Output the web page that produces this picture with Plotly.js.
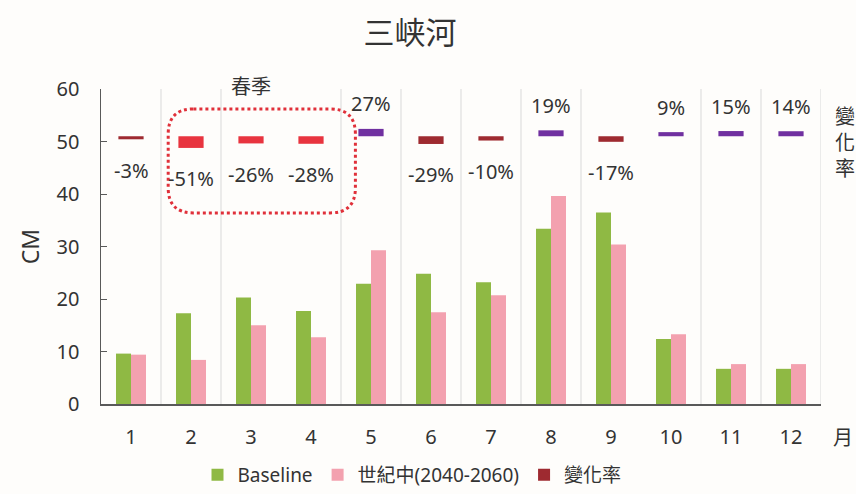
<!DOCTYPE html>
<html>
<head>
<meta charset="utf-8">
<script src="https://cdn.plot.ly/plotly-3.0.1.min.js"></script>
<style>html,body{margin:0;padding:0;background:#fefdfb;}</style>
</head>
<body>
<div id="chart" style="width:856px;height:494px;"></div>
<script>
// ---- data ----
const months = [1,2,3,4,5,6,7,8,9,10,11,12];
const monthLabels = ['1','2','3','4','5','6','7','8','9','10','11','12'];
const baseline = [9.6, 17.3, 20.3, 17.7, 22.9, 24.8, 23.2, 33.4, 36.5, 12.4, 6.7, 6.7];
const midCentury = [9.4, 8.4, 15.0, 12.7, 29.3, 17.5, 20.7, 39.6, 30.4, 13.3, 7.6, 7.6];
const changeRate = [-3, -51, -26, -28, 27, -29, -10, 19, -17, 9, 15, 14];
const springMonths = [2, 3, 4];

// ---- styling ----
const FONT = '"Noto Sans", "Noto Sans CJK TC", sans-serif';
const TXT = '#333333';
const GREEN = '#8fb944';
const PINK = '#f3a1af';
const DARKRED = '#9e2a30';
const RED = '#e8343f';
const PURPLE = '#7030a0';
const PX_PER_UNIT = 315 / 60;
const RATE_BASE = 51;
const L = 101, T = 89, PW = 720, PH = 315;

const rateColors = changeRate.map((r, i) => r > 0 ? PURPLE : (springMonths.includes(months[i]) ? RED : DARKRED));
const rateThickPx = changeRate.map(r => 2.5 + Math.abs(r) * 0.18);
const rateHeights = changeRate.map((r, i) => Math.sign(r) * rateThickPx[i] / PX_PER_UNIT);

const traces = [
  {type: 'bar', name: 'Baseline', x: months, y: baseline, marker: {color: GREEN}, hoverinfo: 'skip'},
  {type: 'bar', name: '世紀中(2040-2060)', x: months, y: midCentury, marker: {color: PINK}, hoverinfo: 'skip'},
  {type: 'bar', name: '變化率', x: months, y: rateHeights, base: RATE_BASE, width: 0.42,
   xaxis: 'x2', marker: {color: rateColors}, hoverinfo: 'skip'}
];

const px2paper = (px, py) => ({x: (px - L) / PW, y: (T + PH - py) / PH});

const annotations = changeRate.map((r, i) => ({
  x: months[i], y: RATE_BASE + rateHeights[i], xref: 'x', yref: 'y',
  text: r + '%', showarrow: false, yanchor: 'middle',
  yshift: r > 0 ? 25 : -31,
  font: {family: FONT, size: 20, color: TXT}
}));
annotations.push({x: 3, y: 60, xref: 'x', yref: 'y', text: '春季', showarrow: false,
  yanchor: 'middle', yshift: 3, font: {family: FONT, size: 20, color: TXT}});
const p1 = px2paper(845, 142);
annotations.push({x: p1.x, y: p1.y, xref: 'paper', yref: 'paper', text: '變<br>化<br>率',
  showarrow: false, xanchor: 'center', yanchor: 'middle',
  font: {family: FONT, size: 20, color: TXT}});
const p2 = px2paper(843, 437);
annotations.push({x: p2.x, y: p2.y, xref: 'paper', yref: 'paper', text: '月',
  showarrow: false, xanchor: 'center', yanchor: 'middle',
  font: {family: FONT, size: 20, color: TXT}});

const gridAt = [1.5, 2.5, 4.5, 5.5, 6.5, 7.5, 8.5, 10.5, 11.5, 12.5];
const shapes = gridAt.map(g => ({
  type: 'line', xref: 'x', yref: 'y', x0: g, x1: g, y0: 0, y1: 60, layer: 'below',
  line: {color: '#d9d9d9', width: 1}
}));
// dotted rounded box around spring
const bx0 = 1.62, bx1 = 4.74, by0 = 36.4, by1 = 56.2, rx = 0.42, ry = 4.8;
shapes.push({
  type: 'path', xref: 'x', yref: 'y', layer: 'above',
  path: `M ${bx0 + rx} ${by1} L ${bx1 - rx} ${by1} Q ${bx1} ${by1} ${bx1} ${by1 - ry} L ${bx1} ${by0 + ry} Q ${bx1} ${by0} ${bx1 - rx} ${by0} L ${bx0 + rx} ${by0} Q ${bx0} ${by0} ${bx0} ${by0 + ry} L ${bx0} ${by1 - ry} Q ${bx0} ${by1} ${bx0 + rx} ${by1} Z`,
  line: {color: '#e0303a', width: 3, dash: 'dot'}
});

const layout = {
  width: 856, height: 494,
  paper_bgcolor: '#fefdfb', plot_bgcolor: '#fefdfb',
  margin: {l: L, r: 856 - L - PW, t: T, b: 494 - T - PH, autoexpand: false},
  font: {family: FONT, color: TXT},
  title: {text: '三峡河', x: 410 / 856, xanchor: 'center', xref: 'container',
          y: 1 - 33 / 494, yanchor: 'middle', yref: 'container',
          font: {family: FONT, size: 31, color: TXT}},
  barmode: 'group', bargap: 0.5, bargroupgap: 0,
  showlegend: true,
  legend: {orientation: 'h', xref: 'container', x: 412 / 856, xanchor: 'center',
           yref: 'container', y: 0, yanchor: 'bottom',
           font: {family: FONT, size: 19, color: TXT}, traceorder: 'normal', itemwidth: 30,
           bgcolor: 'rgba(0,0,0,0)'},
  xaxis: {range: [0.5, 12.5], tickvals: months, ticktext: monthLabels, showgrid: false,
          zeroline: false, showline: true, linecolor: '#595959', linewidth: 1.5, ticks: '',
          tickfont: {family: FONT, size: 20, color: TXT}, ticklabelstandoff: 14, fixedrange: true},
  xaxis2: {range: [0.5, 12.5], overlaying: 'x', visible: false, fixedrange: true},
  yaxis: {range: [0, 60], dtick: 10, showgrid: false, zeroline: false, showline: true,
          linecolor: '#595959', linewidth: 1.5, ticks: 'inside', ticklen: 6, tickcolor: '#595959',
          tickfont: {family: FONT, size: 20, color: TXT}, ticklabelstandoff: 16,
          title: {text: 'CM', font: {family: FONT, size: 23, color: TXT}, standoff: 10},
          fixedrange: true},
  annotations: annotations,
  shapes: shapes
};

Plotly.newPlot('chart', traces, layout, {displayModeBar: false, staticPlot: true});
</script>
</body>
</html>
